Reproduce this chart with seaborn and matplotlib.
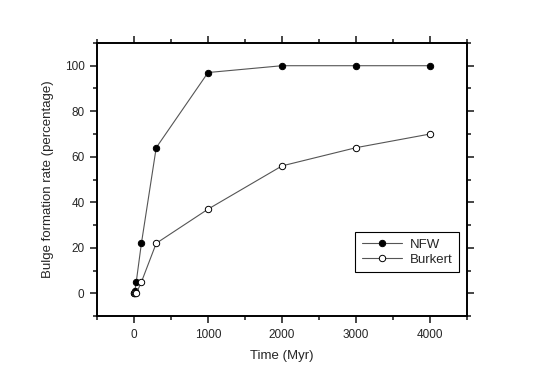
import matplotlib
matplotlib.use("Agg")
import matplotlib.pyplot as plt
import seaborn as sns
from matplotlib.ticker import MultipleLocator

# data
time_myr = [1, 10, 30, 100, 300, 1000, 2000, 3000, 4000]
nfw = [0, 1, 5, 22, 64, 97, 100, 100, 100]
burkert = [0, 0, 0, 5, 22, 37, 56, 64, 70]

sns.set_style("ticks")
plt.rcParams['font.family'] = ['Liberation Sans', 'DejaVu Sans']

fig = plt.figure(figsize=(5.45, 3.8), dpi=100)
ax = fig.add_axes([0.178, 0.168, 0.679, 0.719])

line_kw = dict(color="#555555", linewidth=0.8, marker="o", markersize=4.6,
               markeredgecolor="black", markeredgewidth=0.7)
sns.lineplot(x=time_myr, y=nfw, ax=ax, label="NFW", markerfacecolor="black", **line_kw)
sns.lineplot(x=time_myr, y=burkert, ax=ax, label="Burkert", markerfacecolor="white", **line_kw)

ax.set_xlim(-500, 4500)
ax.set_ylim(-10, 110)
ax.xaxis.set_major_locator(MultipleLocator(1000))
ax.xaxis.set_minor_locator(MultipleLocator(500))
ax.yaxis.set_major_locator(MultipleLocator(20))
ax.yaxis.set_minor_locator(MultipleLocator(10))

for side in ax.spines.values():
    side.set_linewidth(1.4)
    side.set_color("black")

ax.tick_params(which="both", direction="out", top=True, bottom=True, left=True,
               right=True, width=1.2, labelsize=8.5)
ax.tick_params(which="major", length=5, pad=4)
ax.tick_params(which="minor", length=3)

ax.set_xlabel("Time (Myr)", fontsize=9.5, labelpad=7)
ax.set_ylabel("Bulge formation rate (percentage)", fontsize=9.5, labelpad=8)

ax.legend(loc="upper right", bbox_to_anchor=(0.978, 0.308), fontsize=9.5,
          frameon=True, fancybox=False, edgecolor="black", framealpha=1,
          handlelength=3.0, handletextpad=0.6, borderpad=0.5, labelspacing=0.2,
          borderaxespad=0)
ax.get_legend().get_frame().set_linewidth(0.8)

fig.savefig("out.png", dpi=100)
